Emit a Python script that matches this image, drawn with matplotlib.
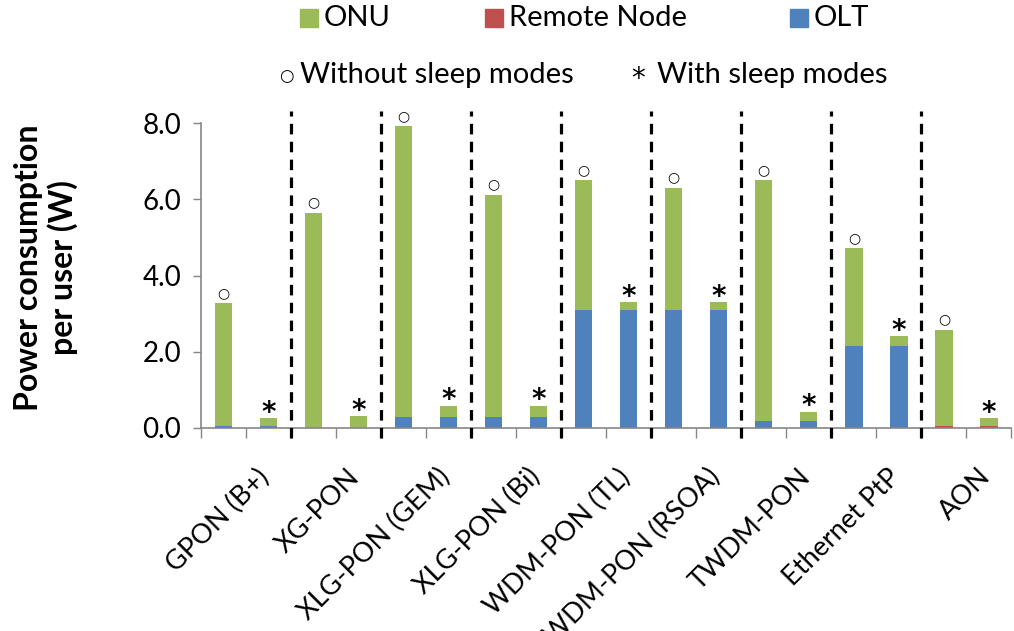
import matplotlib
matplotlib.use("Agg")
import matplotlib.pyplot as plt
from matplotlib.patches import Rectangle
from matplotlib.transforms import ScaledTranslation, blended_transform_factory
import numpy as np

plt.rcParams['font.family'] = ['Lato', 'DejaVu Sans']

categories = ["GPON (B+)", "XG-PON", "XLG-PON (GEM)", "XLG-PON (Bi)", "WDM-PON (TL)",
              "WDM-PON (RSOA)", "TWDM-PON", "Ethernet PtP", "AON"]
# per category: [without sleep, with sleep]
olt = [0.06, 0.05, 0.01, 0.01, 0.30, 0.30, 0.30, 0.30, 3.10, 3.10,
       3.10, 3.10, 0.18, 0.18, 2.16, 2.16, 0.00, 0.00]
remote_node = [0, 0, 0, 0, 0, 0, 0, 0, 0, 0,
               0, 0, 0, 0, 0, 0, 0.06, 0.06]
onu = [3.21, 0.21, 5.63, 0.30, 7.61, 0.28, 5.81, 0.28, 3.40, 0.20,
       3.20, 0.20, 6.32, 0.24, 2.55, 0.24, 2.51, 0.20]
sleep_flag = [0, 1] * 9
yticks = [0.0, 2.0, 4.0, 6.0, 8.0]

GREEN = "#9BBB59"
RED = "#C0504D"
BLUE = "#4F81BD"
GREY = "#868686"

W, H = 1014, 631
fig = plt.figure(figsize=(W / 100, H / 100), dpi=100)
ax_l, ax_r, ax_t, ax_b = 200.7, 1011.5, 123, 428
ax = fig.add_axes([ax_l / W, (H - ax_b) / H, (ax_r - ax_l) / W, (ax_b - ax_t) / H])

x = np.arange(len(onu))
bw = 0.385
olt_a = np.array(olt)
rn_a = np.array(remote_node)
onu_a = np.array(onu)
ax.bar(x, olt_a, bw, color=BLUE, edgecolor="none", zorder=2)
ax.bar(x, rn_a, bw, bottom=olt_a, color=RED, edgecolor="none", zorder=2)
ax.bar(x, onu_a, bw, bottom=olt_a + rn_a, color=GREEN, edgecolor="none", zorder=2)
totals = olt_a + rn_a + onu_a

for xi, t, s in zip(x, totals, sleep_flag):
    if s:
        ax.annotate("*", xy=(xi, t), xytext=(0, 4), textcoords="offset points",
                    ha="center", va="center", fontsize=20, fontweight="bold",
                    family="DejaVu Sans", annotation_clip=False)
    else:
        ax.annotate("○", xy=(xi, t), xytext=(0, 7.5), textcoords="offset points",
                    ha="center", va="center", fontsize=10, fontweight="bold",
                    family="DejaVu Sans", annotation_clip=False)

ax.set_xlim(-0.5, len(onu) - 0.5)
ax.set_ylim(0, 8)
ax.set_yticks(yticks)
ax.set_yticklabels([f"{v:.1f}" for v in yticks], fontsize=20)
ax.set_xticks(np.arange(len(onu) + 1) - 0.5)
ax.set_xticklabels([])
ax.tick_params(axis="y", length=6, width=1, color=GREY, pad=8)
ax.tick_params(axis="x", length=7, width=1, color=GREY)
for sp in ["top", "right"]:
    ax.spines[sp].set_visible(False)
for sp in ["left", "bottom"]:
    ax.spines[sp].set_color(GREY)
    ax.spines[sp].set_linewidth(1.2)

# dashed separators between technologies
sep = np.arange(1.5, len(onu) - 1, 2)
ax.vlines(sep, -0.26, 8.31, colors="black", linestyles=(0, (3.3, 2.3)),
          linewidth=2.3, clip_on=False, zorder=3)

# category labels
trans = blended_transform_factory(ax.transData, ax.transAxes)
for i, c in enumerate(categories):
    off = ScaledTranslation(20 / 100, -45 / 100, fig.dpi_scale_trans)
    ax.text(2 * i + 0.5, 0, c, transform=trans + off, rotation=45,
            rotation_mode="anchor", ha="right", va="center", fontsize=19.5)

fig.text(46 / W, 1 - 268 / H, "Power consumption\nper user (W)", rotation=90,
         ha="center", va="center", fontsize=23, fontweight="bold", linespacing=1.2)

# legend
def px(xp, yp):
    return xp / W, 1 - yp / H

for xs, col, lab in [(300, GREEN, "ONU"), (485, RED, "Remote Node"), (790, BLUE, "OLT")]:
    x0, y0 = px(xs, 27)
    fig.patches.append(Rectangle((x0, y0), 18 / W, 18 / H, transform=fig.transFigure,
                                 color=col, figure=fig))
    tx, ty = px(xs + 24, 18)
    fig.text(tx, ty, lab, ha="left", va="center", fontsize=21)

tx, ty = px(286, 76)
fig.text(tx, ty, "○", ha="center", va="center", fontsize=12, family="DejaVu Sans")
tx, ty = px(300, 75)
fig.text(tx, ty, "Without sleep modes", ha="left", va="center", fontsize=21)
tx, ty = px(638, 79)
fig.text(tx, ty, "*", ha="center", va="center", fontsize=20, family="DejaVu Sans")
tx, ty = px(657, 75)
fig.text(tx, ty, "With sleep modes", ha="left", va="center", fontsize=21)

fig.savefig("out.png", dpi=100)
